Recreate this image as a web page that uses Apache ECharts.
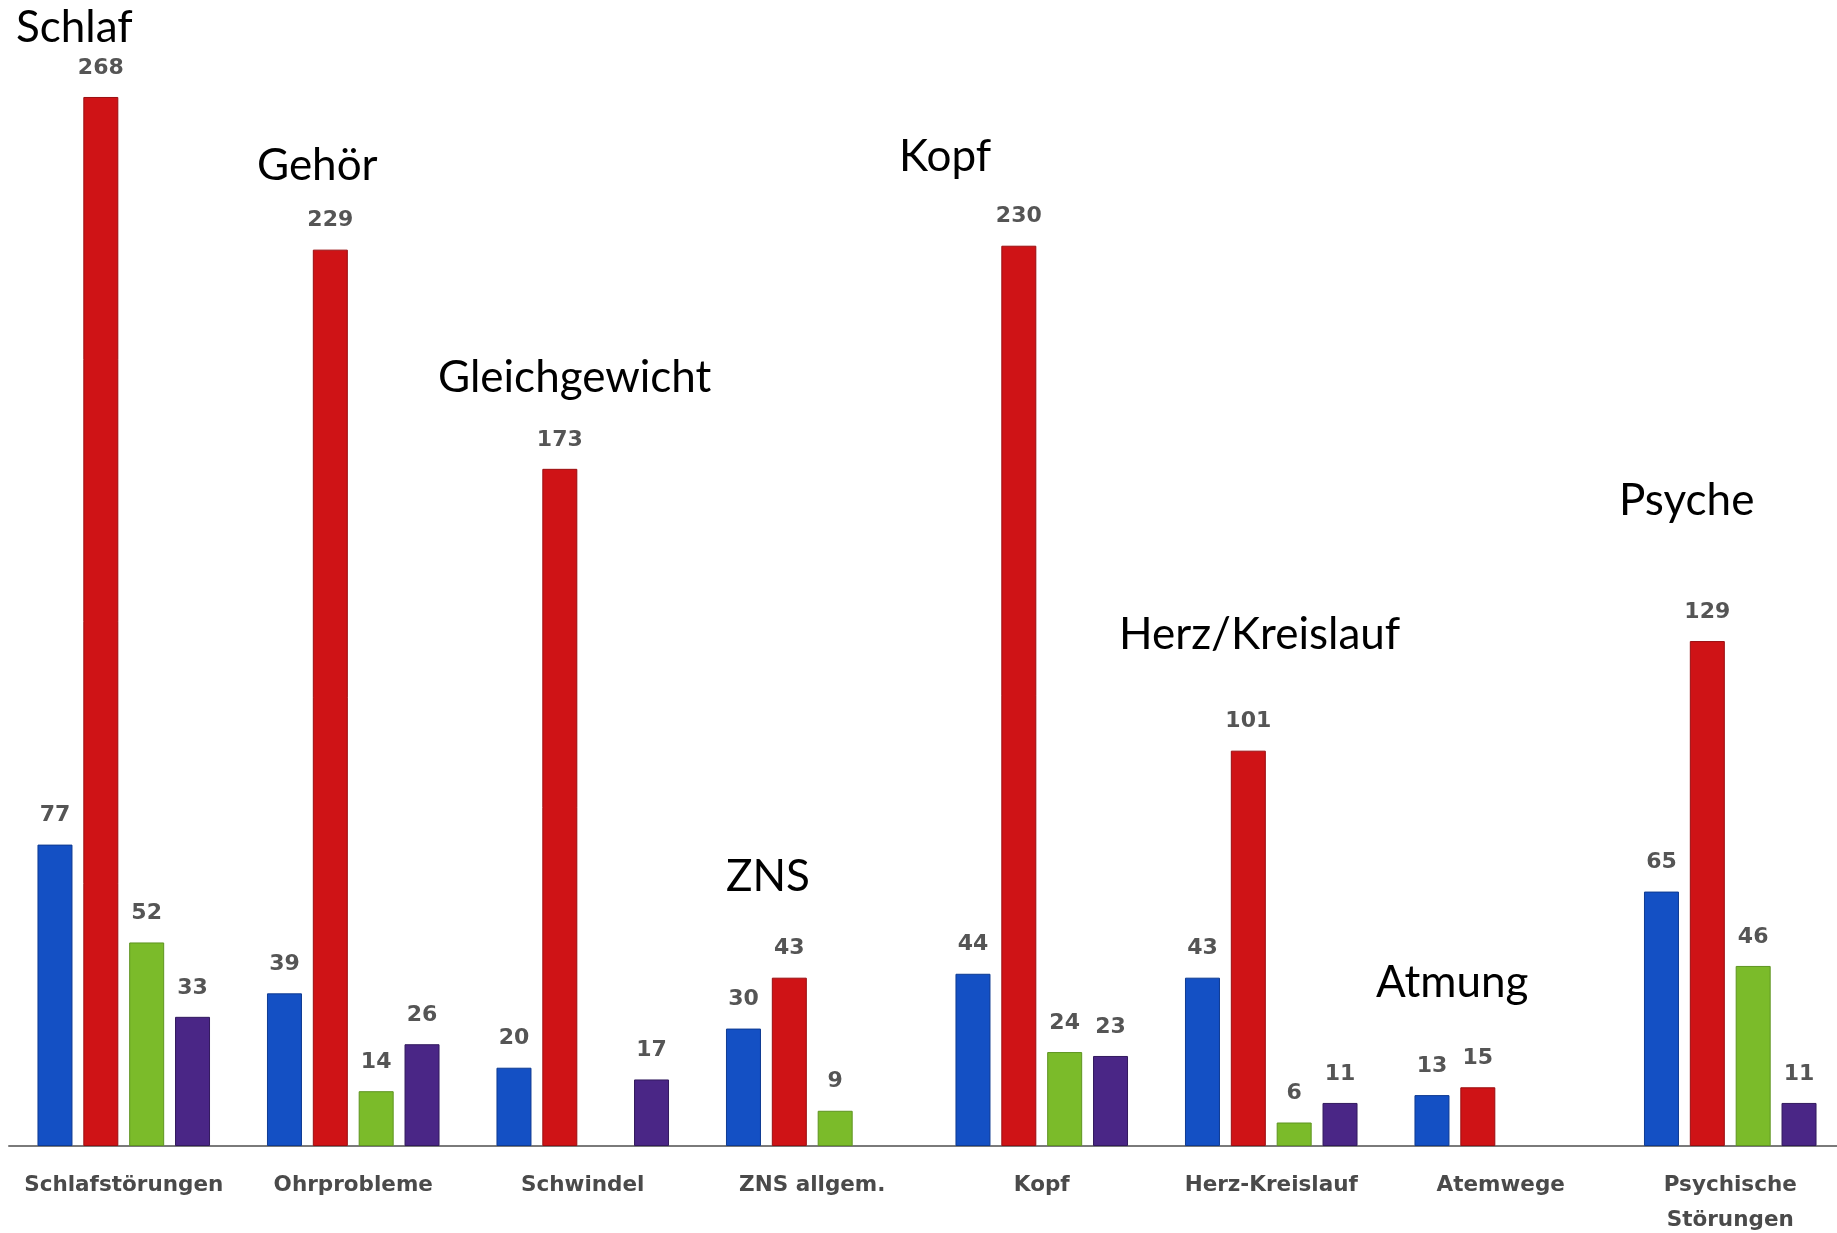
<!DOCTYPE html>
<html>
<head>
<meta charset="utf-8">
<title>Beschwerden nach Bereichen</title>
<script src="https://cdn.jsdelivr.net/npm/echarts@6/dist/echarts.min.js"></script>
<style>
  html, body { margin: 0; padding: 0; background: #ffffff; }
  #chart { width: 1837px; height: 1233px; }
</style>
</head>
<body>
<div id="chart"></div>
<script>
// Beschwerdekategorien (x-Achse)
const categories = ['Schlafstörungen', 'Ohrprobleme', 'Schwindel', 'ZNS allgem.', 'Kopf', 'Herz-Kreislauf', 'Atemwege', 'Psychische\nStörungen'];

// Vier Datenreihen je Kategorie (null = keine Angabe)
const seriesBlue   = [77, 39, 20, 30, 44, 43, 13, 65];
const seriesRed    = [268, 229, 173, 43, 230, 101, 15, 129];
const seriesGreen  = [52, 14, null, 9, 24, 6, null, 46];
const seriesPurple = [33, 26, 17, null, 23, 11, null, 11];

// Überschriften der Bereiche
const areaTitles = ['Schlaf', 'Gehör', 'Gleichgewicht', 'ZNS', 'Kopf', 'Herz/Kreislauf', 'Atmung', 'Psyche'];
const areaTitlePos = [[16, 28], [257, 166], [438, 378], [726, 877], [899, 157], [1119, 635], [1376, 983], [1619, 501]];

const colors = ['#1450c4', '#cf1316', '#7bbb2a', '#4a2686'];
const borders = ['#0e3a91', '#9a0e10', '#5e9420', '#321a5e'];

function barSeries(name, data, idx) {
  return {
    name: name,
    type: 'bar',
    data: data,
    barWidth: 35,
    barGap: '31%',
    itemStyle: { color: colors[idx], borderColor: borders[idx], borderWidth: 1 },
    label: {
      show: true,
      position: 'top',
      distance: 18,
      color: '#555555',
      fontFamily: 'DejaVu Sans',
      fontWeight: 'bold',
      fontSize: 22,
      formatter: p => (p.value == null ? '' : String(p.value))
    }
  };
}

const chart = echarts.init(document.getElementById('chart'), null, { renderer: 'canvas' });

chart.setOption({
  backgroundColor: '#ffffff',
  animation: false,
  grid: { left: 9, top: 50, right: -8, bottom: 87, containLabel: false, outerBoundsMode: 'none' },
  xAxis: {
    type: 'category',
    data: categories,
    axisTick: { show: false },
    axisLine: { show: true, lineStyle: { color: '#7a7a7a', width: 2 } },
    axisLabel: {
      interval: 0,
      margin: 22,
      color: '#4a4a4a',
      fontFamily: 'DejaVu Sans',
      fontWeight: 'bold',
      fontSize: 21.5,
      lineHeight: 35
    }
  },
  yAxis: {
    type: 'value',
    min: 0,
    max: 280,
    show: false,
    splitLine: { show: false }
  },
  series: [
    barSeries('Reihe 1', seriesBlue, 0),
    barSeries('Reihe 2', seriesRed, 1),
    barSeries('Reihe 3', seriesGreen, 2),
    barSeries('Reihe 4', seriesPurple, 3)
  ],
  graphic: areaTitles.map((t, i) => ({
    type: 'text',
    x: areaTitlePos[i][0],
    y: areaTitlePos[i][1],
    style: {
      text: t,
      fill: '#000000',
      font: '44px Lato',
      verticalAlign: 'middle'
    }
  }))
});
</script>
</body>
</html>
